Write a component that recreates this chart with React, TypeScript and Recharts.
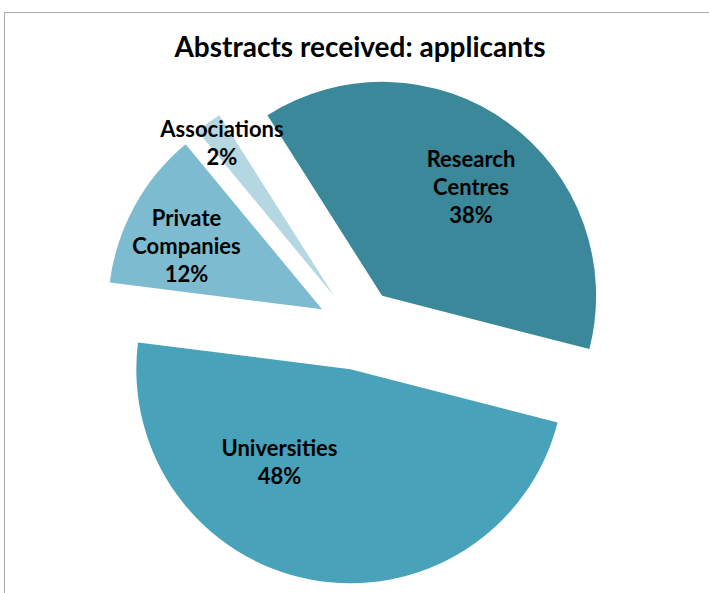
import React from 'react';
import { PieChart, Pie, Cell } from 'recharts';

const categories = ['Research Centres', 'Universities', 'Private Companies', 'Associations'];
const values = [38, 48, 12, 2];
const labelLines = [['Research', 'Centres'], ['Universities'], ['Private', 'Companies'], ['Associations']];
const colors = ['#3A889A', '#48A2B9', '#7DBCD0', '#B4D7E2'];
const title = 'Abstracts received: applicants';

const W = 709;
const H = 593;
const CX = 358;
const CY = 329;
const R = 214;
const EXPLODE = 41;
const START = 122.4;
const labelPlace = [
  { f: 0.66, da: -3 },
  { f: 0.54, da: -27 },
  { f: 0.7, da: 3.6 },
  { f: 0.89, da: 0 },
];
const FONT = 'Lato, "Open Sans", sans-serif';
const LABEL_SIZE = 22;
const LINE_H = 28;

const total = values.reduce((a, b) => a + b, 0);
const data = categories.map((name, i) => ({ name, value: values[i] }));
const mids: number[] = [];
{
  let acc = 0;
  values.forEach((v) => {
    const a0 = START - (acc / total) * 360;
    acc += v;
    const a1 = START - (acc / total) * 360;
    mids.push((a0 + a1) / 2);
  });
}
const RAD = Math.PI / 180;

function makeLabel(slice: number) {
  return (props: any) => {
    const { cx, cy, midAngle, outerRadius, index, percent } = props;
    if (index !== slice) return null;
    const p = labelPlace[index];
    const a = (midAngle + p.da) * RAD;
    const r = outerRadius * p.f;
    const x = cx + r * Math.cos(a);
    const y = cy - r * Math.sin(a);
    const lines = [...labelLines[index], `${Math.round(percent * 100)}%`];
    const y0 = y - ((lines.length - 1) * LINE_H) / 2;
    return (
      <text
        x={x}
        y={y0}
        textAnchor="middle"
        dominantBaseline="central"
        fill="#000"
        style={{ fontFamily: FONT, fontWeight: 700, fontSize: LABEL_SIZE }}
      >
        {lines.map((l, k) => (
          <tspan key={k} x={x} y={y0 + k * LINE_H} dominantBaseline="central">
            {l}
          </tspan>
        ))}
      </text>
    );
  };
}

export default function App() {
  return (
    <div style={{ position: 'absolute', left: 0, top: 0, width: W, height: H, overflow: 'hidden', background: '#fff' }}>
      <div
        style={{
          position: 'absolute',
          left: 4,
          top: 12,
          width: W + 50,
          height: H + 50,
          border: '1.5px solid #ababab',
          boxSizing: 'border-box',
        }}
      />
      <div style={{ position: 'absolute', left: 0, top: 0 }}>
        <PieChart width={W} height={H} margin={{ top: 0, right: 0, bottom: 0, left: 0 }}>
          {categories.map((_, i) => (
            <Pie
              key={i}
              data={data}
              dataKey="value"
              nameKey="name"
              cx={CX + EXPLODE * Math.cos(mids[i] * RAD)}
              cy={CY - EXPLODE * Math.sin(mids[i] * RAD)}
              outerRadius={R}
              innerRadius={0}
              startAngle={START}
              endAngle={START - 360}
              stroke="none"
              isAnimationActive={false}
              labelLine={false}
              label={makeLabel(i)}
            >
              {data.map((_, j) => (
                <Cell key={j} fill={j === i ? colors[j] : 'none'} stroke="none" />
              ))}
            </Pie>
          ))}
        </PieChart>
      </div>
      <svg width={W} height={H} style={{ position: 'absolute', left: 0, top: 0, pointerEvents: 'none' }}>
        <text
          x={360}
          y={57}
          textAnchor="middle"
          fill="#000"
          style={{ fontFamily: FONT, fontWeight: 700, fontSize: 28 }}
        >
          {title}
        </text>
      </svg>
    </div>
  );
}
